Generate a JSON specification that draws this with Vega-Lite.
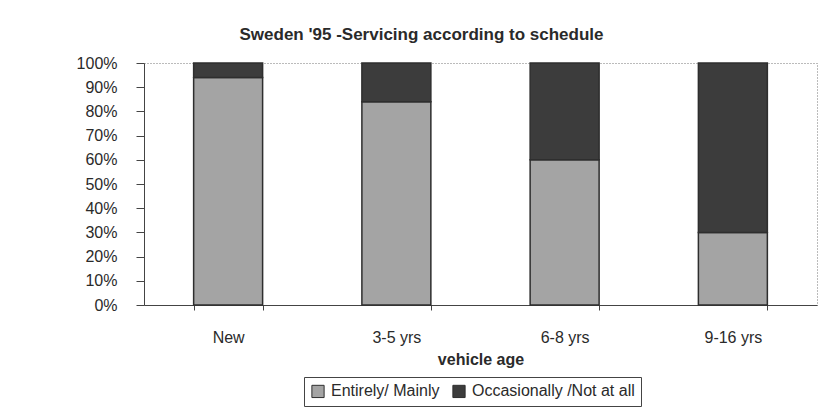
{
  "$schema": "https://vega.github.io/schema/vega-lite/v6.json",
  "autosize": {"type": "none"},
  "width": 673,
  "height": 242,
  "padding": {"left": 144, "top": 63, "right": 7, "bottom": 103},
  "background": "white",
  "title": {
    "text": "Sweden '95 -Servicing according to schedule",
    "font": "Liberation Sans",
    "fontSize": 17,
    "fontWeight": "bold",
    "color": "#2a2a2a",
    "anchor": "middle",
    "dx": -59,
    "offset": 11
  },
  "data": {
    "values": [
      {"age": "New", "servicing": "Entirely/ Mainly", "share": 94},
      {"age": "New", "servicing": "Occasionally /Not at all", "share": 6},
      {"age": "3-5 yrs", "servicing": "Entirely/ Mainly", "share": 84},
      {"age": "3-5 yrs", "servicing": "Occasionally /Not at all", "share": 16},
      {"age": "6-8 yrs", "servicing": "Entirely/ Mainly", "share": 60},
      {"age": "6-8 yrs", "servicing": "Occasionally /Not at all", "share": 40},
      {"age": "9-16 yrs", "servicing": "Entirely/ Mainly", "share": 30},
      {"age": "9-16 yrs", "servicing": "Occasionally /Not at all", "share": 70}
    ]
  },
  "mark": {"type": "bar", "stroke": "#2e2e2e", "strokeWidth": 1.5},
  "encoding": {
    "x": {
      "field": "age",
      "type": "nominal",
      "sort": ["New", "3-5 yrs", "6-8 yrs", "9-16 yrs"],
      "scale": {"paddingInner": 0.59, "paddingOuter": 0.295},
      "axis": {
        "title": "vehicle age",
        "labelAngle": 0,
        "tickBand": "extent",
        "tickSize": 5,
        "labelPadding": 19,
        "titlePadding": 6,
        "titleFontWeight": "bold"
      }
    },
    "y": {
      "field": "share",
      "type": "quantitative",
      "stack": "normalize",
      "scale": {"domain": [0, 1]},
      "axis": {
        "title": null,
        "format": ".0%",
        "values": [0, 0.1, 0.2, 0.3, 0.4, 0.5, 0.6, 0.7, 0.8, 0.9, 1],
        "tickSize": 8,
        "labelPadding": 19,
        "grid": false
      }
    },
    "color": {
      "field": "servicing",
      "type": "nominal",
      "scale": {
        "domain": ["Entirely/ Mainly", "Occasionally /Not at all"],
        "range": ["#a4a4a4", "#3c3c3c"]
      },
      "legend": {
        "title": null,
        "orient": "none",
        "legendX": 160,
        "legendY": 314,
        "direction": "horizontal",
        "strokeColor": "#444",
        "padding": 6,
        "labelFontSize": 16,
        "labelFont": "Liberation Sans",
        "labelColor": "#2a2a2a",
        "labelLimit": 0,
        "symbolType": "square",
        "symbolSize": 150,
        "symbolStrokeColor": "#2e2e2e",
        "symbolStrokeWidth": 1,
        "symbolOpacity": 1,
        "columnPadding": 10,
        "labelOffset": 5
      }
    },
    "order": {"field": "servicing", "sort": "ascending"}
  },
  "config": {
    "view": {"stroke": "#777", "strokeDash": [1, 2], "strokeWidth": 1},
    "axis": {
      "labelFont": "Liberation Sans",
      "titleFont": "Liberation Sans",
      "labelFontSize": 16,
      "titleFontSize": 16,
      "labelColor": "#2a2a2a",
      "titleColor": "#2a2a2a",
      "domainColor": "#444",
      "tickColor": "#444",
      "domainWidth": 1,
      "tickWidth": 1
    }
  }
}
